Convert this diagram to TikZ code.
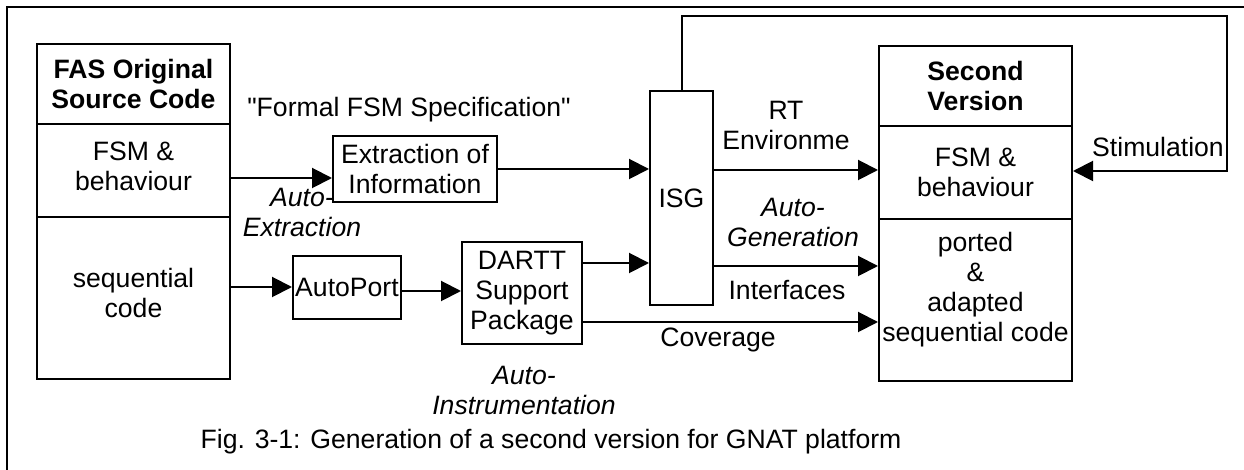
\documentclass[tikz,border=0pt]{standalone}
\usepackage{fontspec}
\setmainfont{Liberation Sans}[Ligatures=TeXOff]
\usetikzlibrary{arrows.meta}
\begin{document}
\begin{tikzpicture}[x=0.5pt,y=-0.5pt,
  every node/.style={font=\fontsize{13.3}{15}\selectfont, align=center},
  cell/.style={draw, line width=1pt, inner sep=0pt},
  lbl/.style={inner sep=0pt},
  conn/.style={line width=1pt},
  arrow/.style={conn, -{Triangle[length=10pt,width=10pt]}}]
\useasboundingbox (0,0) rectangle (1244,470);
% frame
\draw[line width=1pt] (7,470) -- (7,7) -- (1244,7);

% source block
\node[cell, minimum width=96.5pt, minimum height=40pt] (fasHead) at (133.5,84)
  {\bfseries FAS Original\\\bfseries Source Code};
\node[cell, minimum width=96.5pt, minimum height=46.5pt] (fasFsm) at (133.5,170.5) {};
\node[lbl] at (133.5,166) {FSM \&\\behaviour};
\node[cell, minimum width=96.5pt, minimum height=81pt] (fasSeq) at (133.5,298) {};
\node[lbl] at (133.5,293) {sequential\\code};

% second version block
\node[cell, minimum width=96.5pt, minimum height=40pt] (svHead) at (975.5,86)
  {\bfseries Second\\\bfseries Version};
\node[cell, minimum width=96.5pt, minimum height=46.5pt] (svFsm) at (975.5,172.5) {};
\node[lbl] at (975.5,172) {FSM \&\\behaviour};
\node[cell, minimum width=96.5pt, minimum height=81pt] (svSeq) at (975.5,300) {};
\node[lbl] at (975.5,290) {ported\\\&\\adapted\\sequential code};

% tools
\node[cell, minimum width=82pt, minimum height=33pt] (extr) at (415,169) {Extraction of\\Information};
\node[cell, minimum width=31.5pt, minimum height=107pt] (isg) at (681.5,198) {ISG};
\node[cell, minimum width=54pt, minimum height=31.5pt] (aport) at (347,287.5) {AutoPort};
\node[cell, minimum width=60pt, minimum height=51pt] (dartt) at (522,293) {DARTT\\Support\\Package};

% labels
\node[lbl] (spec) at (409,110) {"Formal FSM Specification"};
\node[lbl] (autoext) at (302,212) {\itshape Auto-\\\itshape Extraction};
\node[lbl] (rtenv) at (786,125) {RT\\Environme};
\node[lbl] (autogen) at (793,222) {\itshape Auto-\\\itshape Generation};
\node[lbl] (ifaces) at (787,290) {Interfaces};
\node[lbl] (cover) at (718,340) {Coverage};
\node[lbl] (autoins) at (524,390) {\itshape Auto-\\\itshape Instrumentation};
\node[lbl] (stim) at (1158,147) {Stimulation};
\node[lbl] (caption) at (551,442) {Fig. 3-1: Generation of a second version for GNAT platform};

% connectors
\draw[arrow] (fasFsm.east |- 0,178) -- (extr.west |- 0,178);
\draw[arrow] (extr.east) -- (isg.west |- extr.east);
\draw[arrow] (fasSeq.east |- 0,287) -- (aport.west |- 0,287);
\draw[arrow] (aport.east |- 0,291) -- (dartt.west |- 0,291);
\draw[arrow] (dartt.east |- 0,263) -- (isg.west |- 0,263);
\draw[arrow] (isg.east |- 0,170) -- (svFsm.west |- 0,170);
\draw[arrow] (isg.east |- 0,266) -- (svSeq.west |- 0,266);
\draw[arrow] (dartt.east |- 0,322) -- (svSeq.west |- 0,322);
\draw[arrow] (isg.north) |- (1227,16) |- (svFsm.east |- 0,171);
\end{tikzpicture}
\end{document}
